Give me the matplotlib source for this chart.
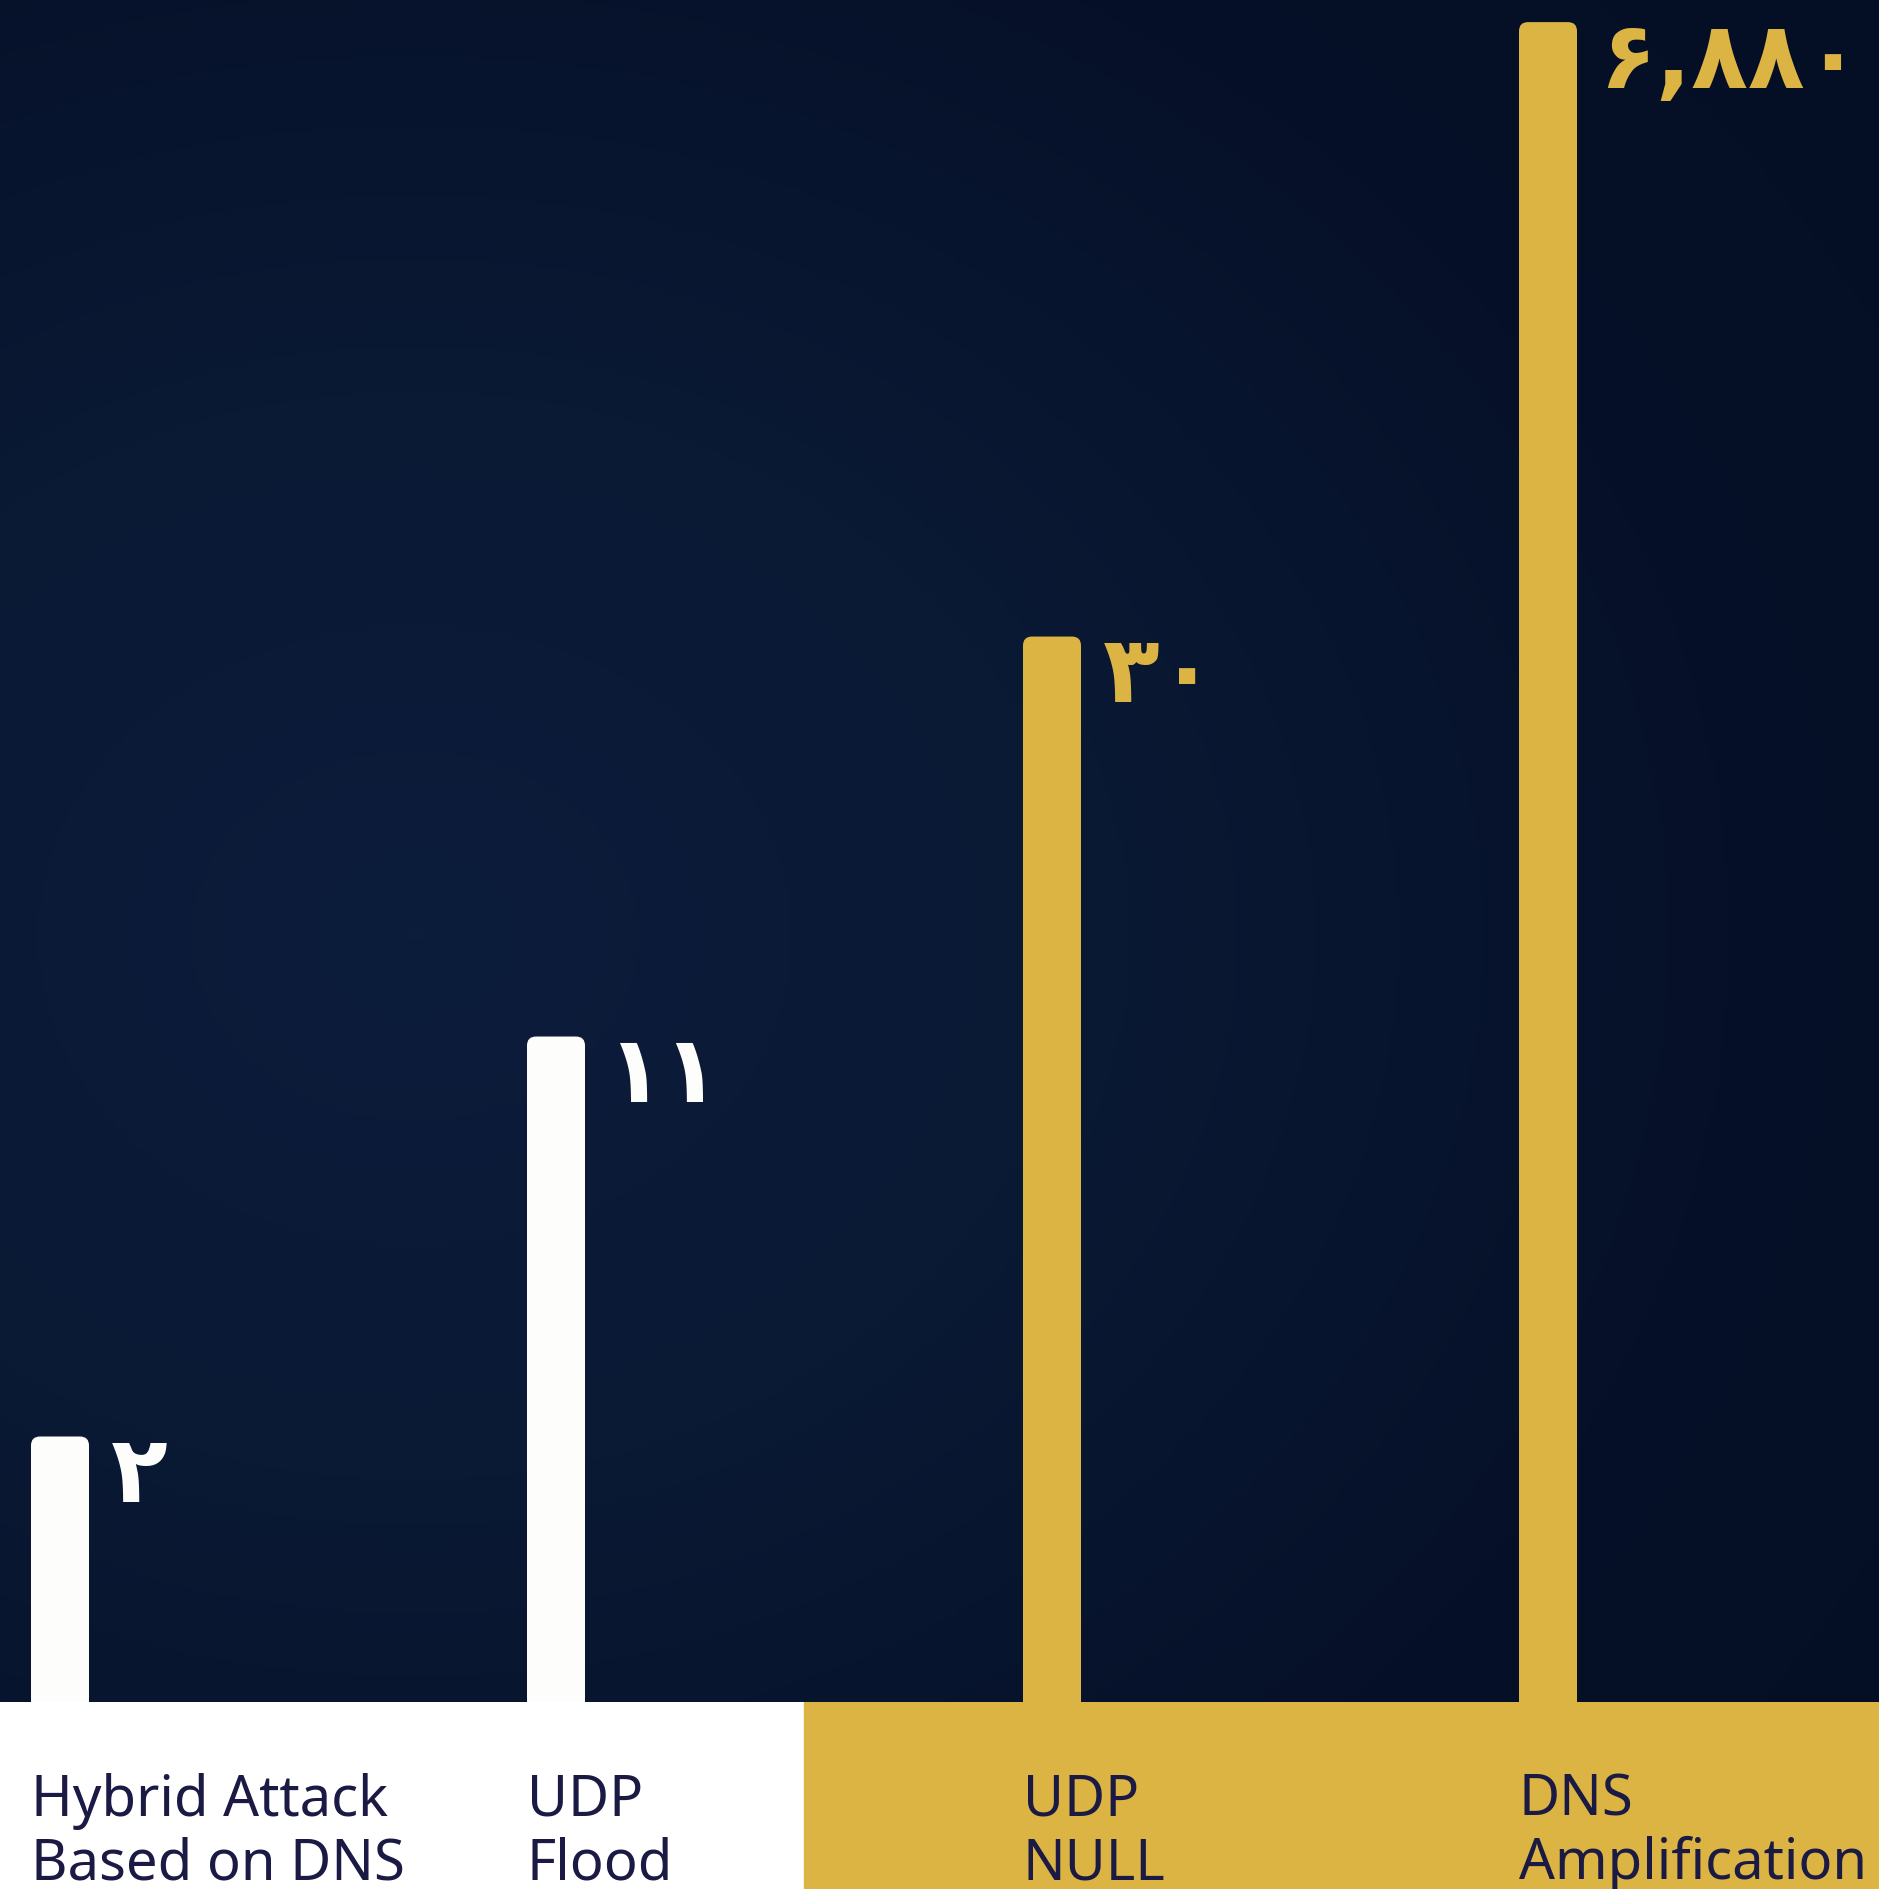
import numpy as np
import matplotlib.pyplot as plt
from matplotlib.patches import FancyBboxPatch
from matplotlib.colors import LinearSegmentedColormap

# data (bar heights are the drawn heights, % of plot area)
categories = ["Hybrid Attack\nBased on DNS", "UDP\nFlood", "UDP\nNULL", "DNS\nAmplification"]
value_labels = ["۲", "۱۱", "۳۰", "۶,۸۸۰"]
bar_heights = [15.6, 39.1, 62.6, 98.7]
highlight = [False, False, True, True]

GOLD = "#dcb443"
WHITE = "#fdfdfb"
NAVY_TEXT = "#1a1a44"

W, H = 1879, 1889
band_px = 187

fig = plt.figure(figsize=(W / 100, H / 100), dpi=100)
fig.patch.set_facecolor("#07132c")

ax = fig.add_axes([0, band_px / H, 1, 1 - band_px / H])
band = fig.add_axes([0, 0, 1, band_px / H])

step = 496.0
x0 = -60 / step
xlim = (x0, x0 + W / step)
ax.set_xlim(*xlim)
ax.set_ylim(0, 100)

# radial background gradient
gx, gy = np.meshgrid(np.linspace(0, 1, 400), np.linspace(0, 1, 400))
r = np.sqrt(((gx - 0.22) * 1.0) ** 2 + ((gy - 0.45) * 1.1) ** 2)
cmap = LinearSegmentedColormap.from_list("bg", ["#0c1c3b", "#0a1934", "#061129", "#040e23"])
ax.imshow(r, cmap=cmap, extent=(xlim[0], xlim[1], 0, 100), origin="lower",
          aspect="auto", vmin=0, vmax=1.05, zorder=0)

x = np.arange(len(categories))
width = 58 / step
bars = ax.bar(x, bar_heights, width=width, color=[GOLD if h else WHITE for h in highlight])

# swap each rectangle for one with rounded top corners
ax_h_px = H - band_px
aspect = (100 / ax_h_px) / (1 / step)
for rect, hl in zip(bars, highlight):
    rect.set_visible(False)
    fb = FancyBboxPatch((rect.get_x(), rect.get_y() - 2), rect.get_width(), rect.get_height() + 2,
                        boxstyle="round,pad=0,rounding_size=%f" % (9 / step),
                        mutation_aspect=aspect, facecolor=rect.get_facecolor(),
                        edgecolor="none", zorder=2)
    ax.add_patch(fb)

for xi, h, lab, hl in zip(x, bar_heights, value_labels, highlight):
    ax.annotate(lab, (xi + width / 2, h), xytext=(16, 4), textcoords="offset points",
                ha="left", va="top", fontsize=67, fontweight="bold",
                color=GOLD if hl else WHITE, family="DejaVu Sans", zorder=3)

ax.axis("off")

# label band at the bottom
band.set_xlim(*xlim)
band.set_ylim(0, band_px)
band.axvspan(xlim[0], 1.5, color="white", zorder=0)
band.axvspan(1.5, xlim[1], color=GOLD, zorder=0)
for xi, cat in zip(x, categories):
    line1, line2 = cat.split("\n")
    left = xi - width / 2
    band.text(left, band_px - 114, line1, ha="left", va="baseline", fontsize=40.5,
              color=NAVY_TEXT, family="Noto Sans", fontweight="medium")
    band.text(left, band_px - 177, line2, ha="left", va="baseline", fontsize=40.5,
              color=NAVY_TEXT, family="Noto Sans", fontweight="medium")
band.axis("off")

fig.savefig("out.png", dpi=100, facecolor=fig.get_facecolor())
